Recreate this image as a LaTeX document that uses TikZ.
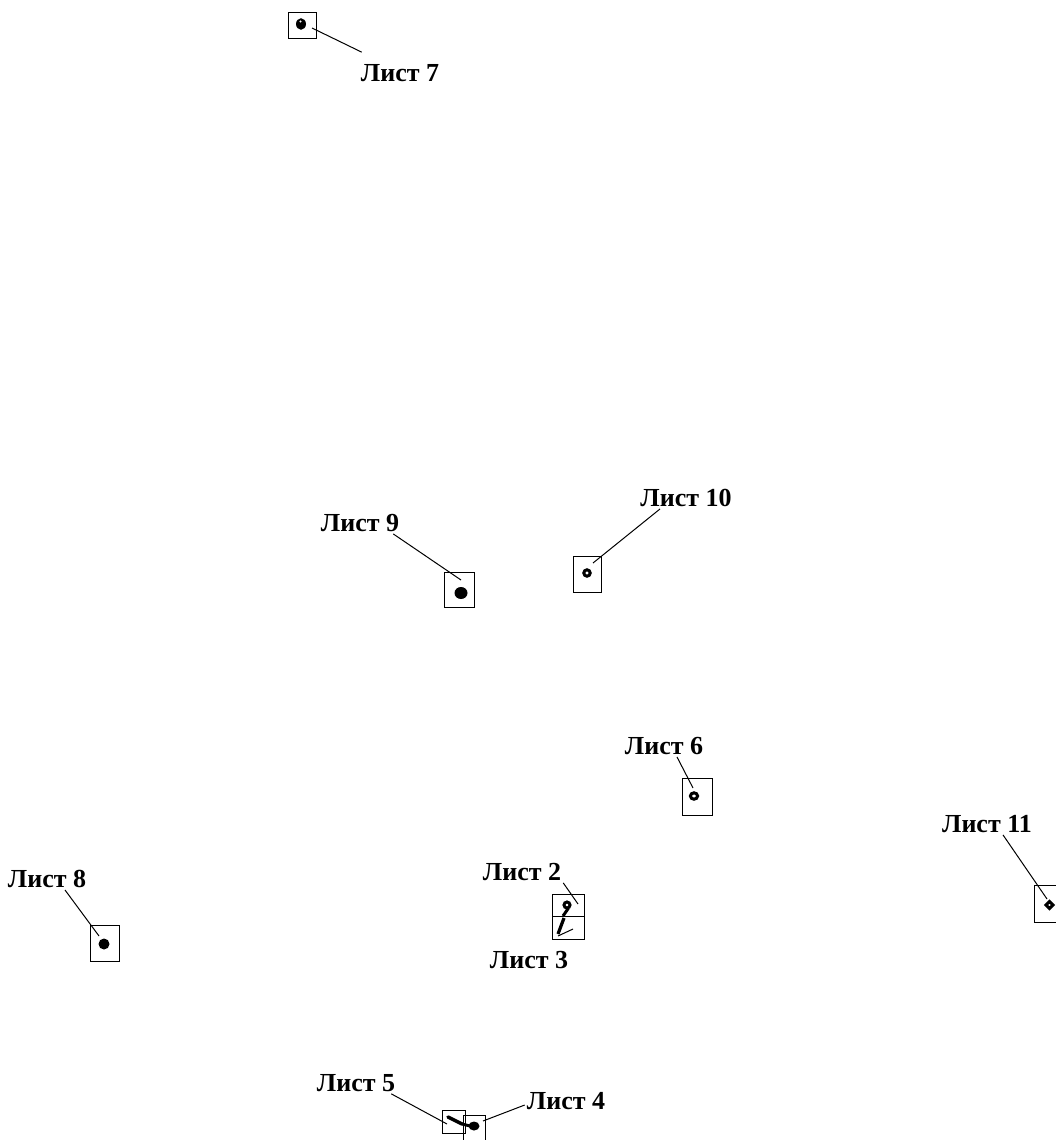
\documentclass[tikz,border=0pt]{standalone}
\usepackage{fontspec}
\setmainfont{Liberation Serif}

\begin{document}
\begin{tikzpicture}[x=1pt, y=-1pt,
	every node/.style={font=\bfseries\fontsize{26}{28}\selectfont, inner sep=2pt},
	sheet/.style={draw, line width=0.9pt, inner sep=0pt},
	lead/.style={line width=1pt},
	spot/.style={line width=3pt, line cap=round}]
	\useasboundingbox (0,0) rectangle (1055,1140);
	% sheets
	\node[sheet, minimum width=28pt, minimum height=26pt] (list7) at (302,25) {};
	\node[sheet, minimum width=30pt, minimum height=35pt] (list9) at (459,590) {};
	\node[sheet, minimum width=28pt, minimum height=36pt] (list10) at (587,574) {};
	\node[sheet, minimum width=30pt, minimum height=37pt] (list6) at (697,797) {};
	\node[sheet, minimum width=32pt, minimum height=37pt] (list11) at (1050,904) {};
	\node[sheet, minimum width=29pt, minimum height=36pt] (list8) at (104.5,943) {};
	\node[sheet, minimum width=32pt, minimum height=22pt] (list2) at (568,905) {};
	\node[sheet, minimum width=32pt, minimum height=23pt] (list3) at (568,927.5) {};
	\node[sheet, minimum width=23pt, minimum height=23pt] (list5) at (453.5,1121.5) {};
	\node[sheet, minimum width=22pt, minimum height=25pt] (list4) at (474,1127.5) {};
	% marks on the sheets
	\fill (301,24) ellipse (5 and 5.8);
	\fill[white] (300.5,21.5) circle (1.1);
	\fill (461,593) ellipse (6.5 and 6);
	\draw[spot] (587,573) circle (3.2);
	\draw[spot] (694,796) ellipse (3.6 and 3.2);
	\draw[spot, line cap=butt] (1046,905) -- (1049.5,901.5) -- (1053,905) -- (1049.5,908.5) -- cycle;
	\fill (104,944) ellipse (5.5 and 5.5);
	\draw[spot] (567,905) circle (3);
	\draw[line width=3pt] (568.5,908) .. controls (566,912) .. (563,916);
	\draw[line width=3.2pt] (564,918) -- (558,934);
	\draw[lead] (558,936) -- (573,929);
	\draw[line width=3.5pt, line cap=round] (448,1117) -- (462,1124);
	\fill (474,1126) ellipse (5.5 and 4.5);
	\draw[line width=3pt] (462,1124) -- (470,1126);
	% labels
	\node (lab7) at (400,73) {Лист 7};
	\node (lab9) at (360,523) {Лист 9};
	\node (lab10) at (686,498) {Лист 10};
	\node (lab6) at (664,746) {Лист 6};
	\node (lab11) at (987,824) {Лист 11};
	\node (lab8) at (47,879) {Лист 8};
	\node (lab2) at (522,872) {Лист 2};
	\node (lab3) at (529,960) {Лист 3};
	\node (lab5) at (356,1083) {Лист 5};
	\node (lab4) at (566,1101) {Лист 4};
	% leaders
	\coordinate (d7) at (312,28);
	\coordinate (d9) at (461,580);
	\coordinate (d10) at (593,563);
	\coordinate (d6) at (693,788);
	\coordinate (d11) at (1047,899);
	\coordinate (d8) at (99,936);
	\coordinate (d2) at (578,904);
	\coordinate (d5) at (447,1124);
	\coordinate (d4) at (483,1121);
	\draw[lead] ([shift={(3,-10)}]lab7.north west) -- (d7);
	\draw[lead] ([xshift=-8]lab9.south east) -- (d9);
	\draw[lead] ([xshift=-26]lab10.south) -- (d10);
	\draw[lead] ([xshift=13]lab6.south) -- (d6);
	\draw[lead] ([xshift=16]lab11.south) -- (d11);
	\draw[lead] ([xshift=18]lab8.south) -- (d8);
	\draw[lead] (lab2.south east) -- (d2);
	\draw[lead] ([xshift=-6]lab5.south east) -- (d5);
	\draw[lead] ([yshift=-4]lab4.west) -- (d4);
\end{tikzpicture}
\end{document}
